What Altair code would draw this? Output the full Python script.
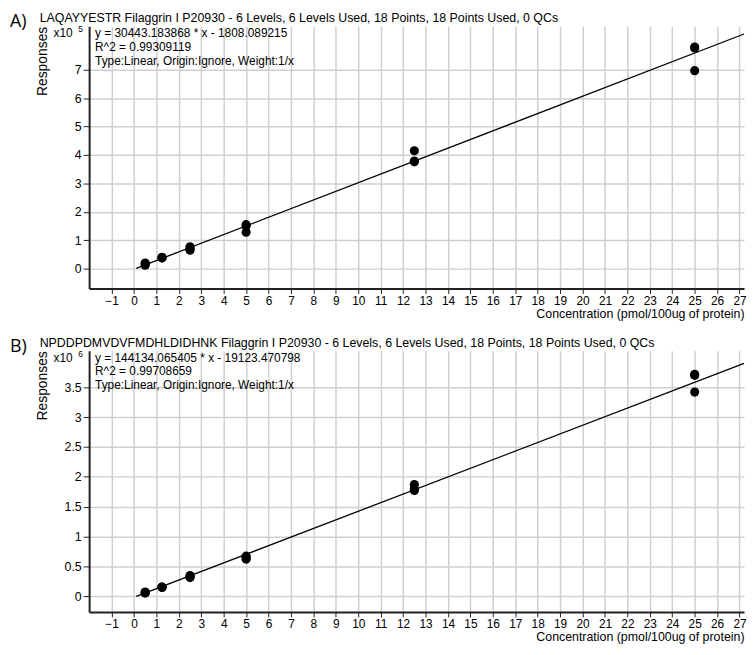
import altair as alt
import pandas as pd

FONT = "Liberation Sans, Arial, sans-serif"

# concentrations of the 18 calibration points (6 levels x 3)
conc = [0.5, 0.5, 0.5, 1.25, 1.25, 1.25, 2.5, 2.5, 2.5,
        5, 5, 5, 12.5, 12.5, 12.5, 25, 25, 25]

# Panel A responses
resp_a = [12000, 17000, 20000, 38000, 38000, 40000, 65000, 72000, 77000,
          128000, 150000, 155000, 376000, 379000, 415000, 697000, 777000, 780000]
# Panel B responses
resp_b = [50000, 60000, 70000, 145000, 150000, 152000, 310000, 330000, 345000,
          620000, 650000, 670000, 1770000, 1800000, 1870000, 3420000, 3700000, 3720000]

# fitted line end points
line_x = [0.1, 27.2]
line_a = [1200, 826000]
line_b = [-4700, 3901000]

x_ticks = list(range(-1, 28))
y_ticks_a = [0, 100000, 200000, 300000, 400000, 500000, 600000, 700000]
y_ticks_b = [0, 500000, 1000000, 1500000, 2000000, 2500000, 3000000, 3500000]

letters = ["A)", "B)"]
titles = [
    "LAQAYYESTR Filaggrin I P20930 - 6 Levels, 6 Levels Used, 18 Points, 18 Points Used, 0 QCs",
    "NPDDPDMVDVFMDHLDIDHNK Filaggrin I P20930 - 6 Levels, 6 Levels Used, 18 Points, 18 Points Used, 0 QCs",
]
equations = ["y = 30443.183868 * x  - 1808.089215", "y = 144134.065405 * x  - 19123.470798"]
r2s = ["R^2 = 0.99309119", "R^2 = 0.99708659"]
fit_type = "Type:Linear, Origin:Ignore, Weight:1/x"
exponents = ["5", "6"]
X_TITLE = "Concentration (pmol/100ug of protein)"

W = 662


def txt(s, x, y, size, align="left", font=FONT):
    return alt.Chart(pd.DataFrame({"t": [s]})).mark_text(
        align=align, baseline="middle", fontSize=size, font=font, color="black"
    ).encode(x=alt.value(x), y=alt.value(y), text="t:N")


def panel(resp, line_y, y_domain, y_ticks, div, idx, height):
    pts = pd.DataFrame({"conc": conc, "resp": resp})
    fit = pd.DataFrame({"conc": line_x, "resp": line_y})
    xenc = alt.X(
        "conc:Q",
        scale=alt.Scale(domain=[-2, 27.2], nice=False, zero=False),
        axis=alt.Axis(
            values=x_ticks, title=X_TITLE, titleAnchor="end", titleAlign="right",
            titleFont=FONT, titleFontSize=12.5, titleFontWeight="normal", titlePadding=1,
            labelFont=FONT, labelFontSize=12, labelFlush=False, labelOverlap=False,
            labelPadding=2, tickSize=5, tickColor="#222", domainColor="#222", domainWidth=2,
            gridColor="#cfcfcf", gridWidth=1.5, labelColor="black", titleColor="black",
        ),
    )
    yenc = alt.Y(
        "resp:Q",
        scale=alt.Scale(domain=y_domain, nice=False, zero=False),
        axis=alt.Axis(
            values=y_ticks, labelExpr=f"datum.value / {div}", title="Responses",
            titleAngle=270, titleX=-47, titleY=35, titleAlign="center", titleBaseline="middle",
            titleFont=FONT, titleFontSize=14, titleFontWeight="normal",
            labelFont=FONT, labelFontSize=12.5, labelPadding=2, labelOverlap=False, labelFlush=False,
            tickSize=6, tickColor="#222", domainColor="#222", domainWidth=2,
            gridColor="#cfcfcf", gridWidth=1.5, labelColor="black", titleColor="black",
        ),
    )
    line = alt.Chart(fit).mark_line(color="black", strokeWidth=1.3).encode(x=xenc, y=yenc)
    dots = alt.Chart(pts).mark_circle(size=85, color="black", opacity=1).encode(x=xenc, y=yenc)
    layers = [
        line, dots,
        txt(letters[idx], -80, -4, 18, font="Open Sans, sans-serif"),
        txt(titles[idx], -50, -8, 12.5),
        txt("x10", -36, 7, 12),
        txt(exponents[idx], -11, 3, 8.5),
        txt(equations[idx], 6, 7, 12),
        txt(r2s[idx], 6, 21, 12),
        txt(fit_type, 6, 35, 12),
    ]
    return alt.layer(*layers).properties(width=W, height=height)


pa = panel(resp_a, line_a, [-69700, 853300], y_ticks_a, 100000, 0, 265)
pb = panel(resp_b, line_b, [-265000, 4113000], y_ticks_b, 1000000, 1, 264)

chart = alt.vconcat(pa, pb, spacing=17).properties(
    padding={"top": 1, "left": 2, "right": 0, "bottom": 0}
).configure_view(stroke=None)

chart.save("out.html", embed_options={"renderer": "svg", "actions": False})
